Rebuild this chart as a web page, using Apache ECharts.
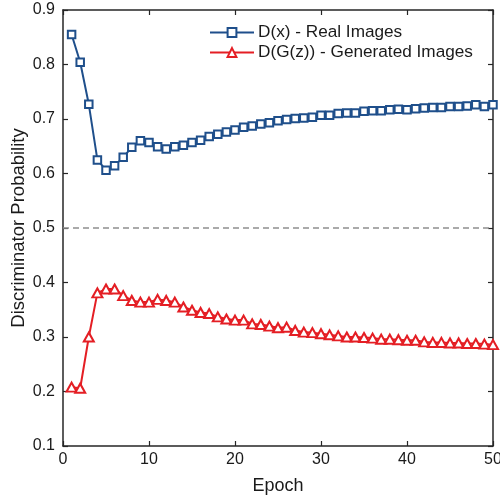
<!DOCTYPE html>
<html>
<head>
<meta charset="utf-8">
<style>
  html, body { margin: 0; padding: 0; background: #fff; }
  #chart { width: 500px; height: 501px; }
</style>
<script src="https://cdn.jsdelivr.net/npm/echarts@6/dist/echarts.min.js"></script>
</head>
<body>
<div id="chart"></div>
<script>
// Discriminator outputs averaged per training epoch
const epochs = Array.from({ length: 50 }, (_, i) => i + 1);

const realProb = [
  0.855, 0.804, 0.727, 0.625, 0.606, 0.614, 0.630, 0.648, 0.660, 0.657,
  0.649, 0.645, 0.649, 0.652, 0.657, 0.661, 0.668, 0.672, 0.676, 0.680,
  0.685, 0.687, 0.691, 0.693, 0.697, 0.699, 0.701, 0.702, 0.703, 0.707,
  0.707, 0.710, 0.711, 0.711, 0.714, 0.715, 0.715, 0.717, 0.718, 0.717,
  0.719, 0.720, 0.721, 0.721, 0.723, 0.723, 0.724, 0.726, 0.723, 0.726
];

const fakeProb = [
  0.208, 0.206, 0.300, 0.381, 0.388, 0.388, 0.376, 0.367, 0.364, 0.364,
  0.369, 0.367, 0.364, 0.355, 0.349, 0.345, 0.343, 0.337, 0.333, 0.331,
  0.331, 0.324, 0.323, 0.320, 0.317, 0.318, 0.312, 0.309, 0.308, 0.306,
  0.304, 0.302, 0.300, 0.300, 0.299, 0.298, 0.296, 0.296, 0.295, 0.294,
  0.294, 0.291, 0.290, 0.290, 0.289, 0.289, 0.288, 0.288, 0.287, 0.286
];

const chanceLevel = 0.5;

const seriesNames = ['D(x) - Real Images', 'D(G(z)) - Generated Images'];
const xTitle = 'Epoch';
const yTitle = 'Discriminator Probability';

const BLUE = '#1f4f8b';
const RED = '#e41e24';
const AXIS = '#262626';
const TEXT = '#1a1a1a';
const FONT = '"Liberation Sans", Arial, Helvetica, sans-serif';

const pair = (vals) => vals.map((v, i) => [epochs[i], v]);

const chart = echarts.init(document.getElementById('chart'), null, { renderer: 'canvas' });

const axisBase = {
  type: 'value',
  axisLine: { show: true, onZero: false, lineStyle: { color: AXIS, width: 1.5 } },
  axisTick: { show: true, inside: true, length: 5, lineStyle: { color: AXIS, width: 1.2 } },
  splitLine: { show: false }
};

chart.setOption({
  animation: false,
  backgroundColor: '#ffffff',
  grid: { left: 63, right: 7, top: 10, bottom: 55, containLabel: false, outerBoundsMode: 'none' },
  legend: {
    orient: 'vertical',
    left: 209,
    top: 24,
    padding: 0,
    itemWidth: 44,
    itemHeight: 11,
    itemGap: 3,
    textStyle: { fontFamily: FONT, fontSize: 17.2, color: TEXT, padding: [0, 0, 0, -1] },
    data: seriesNames
  },
  xAxis: [
    Object.assign({}, axisBase, {
      position: 'bottom',
      min: 0, max: 50, interval: 10,
      name: xTitle,
      nameLocation: 'middle',
      nameGap: 31,
      nameTextStyle: { fontFamily: FONT, fontSize: 18, color: TEXT },
      axisLabel: { fontFamily: FONT, fontSize: 16, color: TEXT, margin: 6 }
    }),
    Object.assign({}, axisBase, {
      position: 'top',
      min: 0, max: 50, interval: 10,
      axisLabel: { show: false }
    })
  ],
  yAxis: [
    Object.assign({}, axisBase, {
      position: 'left',
      min: 0.1, max: 0.9, interval: 0.1,
      name: yTitle,
      nameLocation: 'middle',
      nameGap: 35,
      nameMoveOverlap: false,
      nameTextStyle: { fontFamily: FONT, fontSize: 18.5, color: TEXT },
      axisLabel: {
        fontFamily: FONT, fontSize: 16, color: TEXT, margin: 8,
        formatter: (v) => v.toFixed(1)
      }
    }),
    Object.assign({}, axisBase, {
      position: 'right',
      min: 0.1, max: 0.9, interval: 0.1,
      axisLabel: { show: false }
    })
  ],
  series: [
    {
      name: seriesNames[0],
      type: 'line',
      xAxisIndex: 0,
      yAxisIndex: 0,
      data: pair(realProb),
      symbol: 'emptyRect',
      symbolSize: 7.5,
      lineStyle: { color: BLUE, width: 2 },
      itemStyle: { color: BLUE, borderWidth: 2 },
      z: 3,
      markLine: {
        silent: true,
        symbol: ['none', 'none'],
        label: { show: false },
        lineStyle: { color: '#8e8e8e', type: [6, 4], width: 1.5 },
        data: [{ yAxis: chanceLevel }],
        z: 1
      }
    },
    {
      name: seriesNames[1],
      type: 'line',
      xAxisIndex: 0,
      yAxisIndex: 0,
      data: pair(fakeProb),
      symbol: 'emptyTriangle',
      symbolSize: [10, 9],
      lineStyle: { color: RED, width: 2 },
      itemStyle: { color: RED, borderWidth: 2 },
      z: 3
    }
  ]
});
</script>
</body>
</html>
